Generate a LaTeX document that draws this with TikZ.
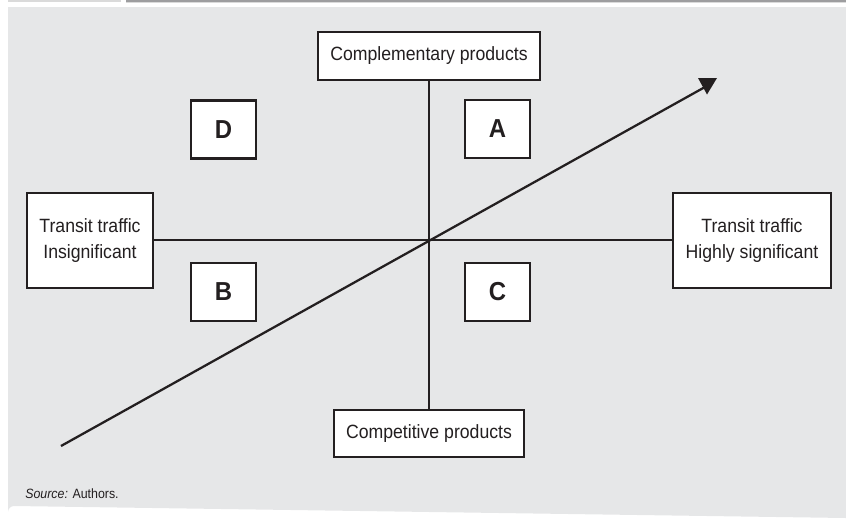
\documentclass[tikz,border=0pt]{standalone}
\usepackage{fontspec}
\setmainfont[FakeStretch=0.92]{Liberation Sans}
\begin{document}
\begin{tikzpicture}[x=0.75pt,y=-0.75pt,
  ink/.style={draw=inkc,line width=1.7pt},
  boxnode/.style={ink,fill=white,inner sep=0pt,align=center,text=inkc,
    font={\fontsize{14.4}{19}\selectfont}},
  letterbox/.style={ink,fill=white,inner sep=0pt,text=inkc,
    minimum width=48.75pt,minimum height=43.5pt,
    font={\fontsize{19.5}{22}\selectfont\bfseries}}]
\definecolor{inkc}{HTML}{231F20}
\definecolor{panelc}{HTML}{E6E7E8}
\definecolor{barlight}{HTML}{DADADA}
\definecolor{bardark}{HTML}{9D9D9F}
\useasboundingbox (0,0) rectangle (846,519);
% top bars
\fill[barlight] (8,0) rectangle (121,2);
\fill[bardark] (126,0) rectangle (846,1.5);
\fill[barlight] (126,1.5) rectangle (846,2.3);
% panel
\fill[panelc] (846,7) -- (8,7) -- (8,512) arc[start angle=180,end angle=270,radius=6] -- (846,518) -- cycle;
% boxes
\node[boxnode,minimum width=166.5pt,minimum height=36pt] (comp) at (429,56) {Complementary products};
\node[boxnode,minimum width=142.5pt,minimum height=35.25pt] (compet) at (429,433.5) {Competitive products};
\node[boxnode,minimum width=94.5pt,minimum height=71.25pt] (left) at (90,240.5) {Transit traffic\\Insignificant};
\node[boxnode,minimum width=118.5pt,minimum height=71.25pt] (right) at (752,240.5) {Transit traffic\\Highly significant};
% axes
\draw[ink] (comp.south) -- (compet.north);
\draw[ink] (left.east |- 0,240) -- (right.west |- 0,240);
% diagonal
\coordinate (s) at (61,446);
\coordinate (e) at (705,87);
\draw[ink] (s) -- (e);
\fill[inkc] (698,78) -- (717,78) -- (707,94.5) -- cycle;
% quadrant letters
\node[letterbox] (A) at (497.5,129) {A};
\node[letterbox] (D) at (223.5,129.5) {D};
\node[letterbox] (B) at (223.5,292) {B};
\node[letterbox] (C) at (497.5,292) {C};
% source
\node[anchor=base west,inner sep=0pt,text=inkc,font={\fontsize{10.1}{12}\selectfont}] (src) at (25,498) {\textit{Source:} Authors.};
\end{tikzpicture}
\end{document}
